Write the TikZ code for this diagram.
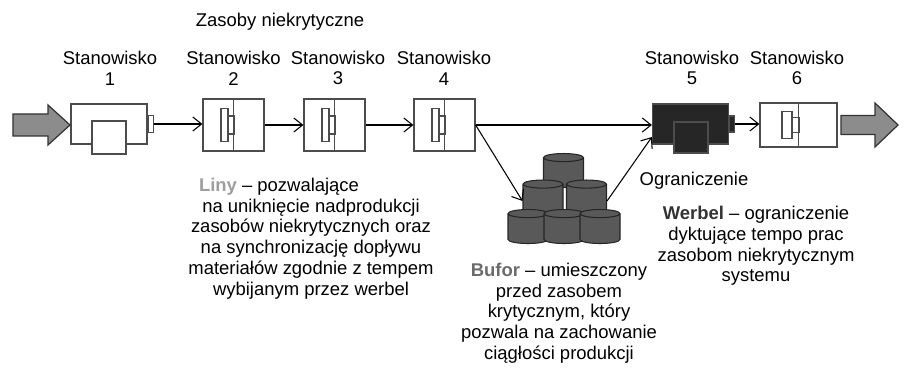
\documentclass[tikz,border=0pt]{standalone}
\usepackage{fontspec}
\setmainfont{Liberation Sans}
\usepackage{tikz}
\usetikzlibrary{arrows.meta,shapes.geometric}

\definecolor{linycol}{gray}{0.62}
\definecolor{buforcol}{gray}{0.42}
\definecolor{werbelcol}{gray}{0.2}

\begin{document}
\begin{tikzpicture}[>={Straight Barb[length=5pt,width=8pt]},
  font=\fontsize{10.5}{11.8}\selectfont,
  machine/.style={draw=black!70, line width=0.7pt, fill=white, inner sep=0pt,
    minimum width=1.52cm, minimum height=0.8cm},
  cell/.style={draw=black!70, line width=0.7pt, fill=white, inner sep=0pt,
    minimum width=1.22cm, minimum height=1.04cm},
  clamp/.style={draw=black!70, line width=0.6pt, fill=white, inner sep=0pt},
  drum/.style={cylinder, shape border rotate=90, aspect=0.45, draw=black!85,
    line width=0.6pt, fill=black!65, inner sep=0.18cm,
    minimum width=0.80cm, minimum height=0.68cm},
  bigarrow/.style={draw=black!80, line width=0.7pt, fill=black!45},
  flow/.style={->, line width=0.6pt}]
\useasboundingbox (0,0) rectangle (18.08,-7.4);

% stanowisko 1
\node[machine] (s1) at (2.18,-2.48) {};
\node[machine, minimum width=0.68cm, minimum height=0.66cm] (s1box) at (2.18,-2.75) {};
\node[clamp, anchor=west, minimum width=0.1cm, minimum height=0.34cm] (s1tab) at (s1.east) {};

% stanowiska 2-4
\node[cell] (s2) at (4.67,-2.5) {};
\draw[draw=black!70, line width=0.7pt] (s2.north) -- (s2.south);
\node[clamp, minimum width=0.14cm, minimum height=0.66cm] (s2a) at ([xshift=-0.18cm]s2.center) {};
\node[clamp, minimum width=0.12cm, minimum height=0.36cm] (s2b) at ([xshift=-0.05cm]s2.center) {};

\node[cell] (s3) at (6.69,-2.5) {};
\draw[draw=black!70, line width=0.7pt] (s3.north) -- (s3.south);
\node[clamp, minimum width=0.14cm, minimum height=0.66cm] (s3a) at ([xshift=-0.18cm]s3.center) {};
\node[clamp, minimum width=0.12cm, minimum height=0.36cm] (s3b) at ([xshift=-0.05cm]s3.center) {};

\node[cell] (s4) at (8.89,-2.5) {};
\draw[draw=black!70, line width=0.7pt] (s4.north) -- (s4.south);
\node[clamp, minimum width=0.14cm, minimum height=0.66cm] (s4a) at ([xshift=-0.18cm]s4.center) {};
\node[clamp, minimum width=0.12cm, minimum height=0.36cm] (s4b) at ([xshift=-0.05cm]s4.center) {};

% stanowisko 5 (werbel)
\node[machine, fill=black!85] (s5) at (13.81,-2.48) {};
\node[machine, fill=black!85, minimum width=0.68cm, minimum height=0.62cm] (s5box) at (13.82,-2.75) {};
\node[clamp, fill=black!85, anchor=west, minimum width=0.1cm, minimum height=0.32cm] (s5tab) at (s5.east) {};

% stanowisko 6
\node[cell, minimum width=1.54cm, minimum height=0.88cm] (s6) at (15.97,-2.5) {};
\draw[draw=black!70, line width=0.7pt] (s6.north) -- (s6.south);
\node[clamp, minimum width=0.2cm, minimum height=0.54cm] (s6a) at ([xshift=-0.23cm]s6.center) {};
\node[clamp, minimum width=0.14cm, minimum height=0.30cm] (s6b) at ([xshift=-0.06cm]s6.center) {};

% bufor
\node[drum] (d1) at (11.27,-3.49) {};
\node[drum] (d2) at (10.86,-4.02) {};
\node[drum] (d3) at (11.73,-4.02) {};
\node[drum] (d4) at (10.56,-4.61) {};
\node[drum] (d5) at (11.28,-4.61) {};
\node[drum] (d6) at (12.00,-4.61) {};

% wejscie i wyjscie
\draw[bigarrow] (0.26,-2.28) -- (0.96,-2.28) -- (0.96,-2.10) -- (1.40,-2.50)
  -- (0.96,-2.90) -- (0.96,-2.72) -- (0.26,-2.72) -- cycle;
\draw[bigarrow] (16.82,-2.31) -- (17.50,-2.31) -- (17.50,-2.06) -- (17.96,-2.50)
  -- (17.50,-2.94) -- (17.50,-2.69) -- (16.82,-2.69) -- cycle;

% przeplyw
\draw[flow] (s1tab.east) -- (s1tab.east -| s2.west);
\draw[flow] (s2.east) -- (s3.west);
\draw[flow] (s3.east) -- (s4.west);
\draw[flow] (s4.east) -- (s4.east -| s5.west);
\draw[flow] (s4.east) -- (d2.west);
\draw[flow] (d3.east) -- ([yshift=-0.26cm]s5.west);
\draw[flow] (s5tab.east) -- (s5tab.east -| s6.west);

% opisy
\node (zasoby) at (5.6,-0.44) {Zasoby niekrytyczne};
\node[align=center] (l1) at (2.2,-1.36) {Stanowisko\\1};
\node[align=center] (l2) at (4.67,-1.36) {Stanowisko\\2};
\node[align=center] (l3) at (6.76,-1.36) {Stanowisko\\3};
\node[align=center] (l4) at (8.88,-1.36) {Stanowisko\\4};
\node[align=center] (l5) at (13.84,-1.36) {Stanowisko\\5};
\node[align=center] (l6) at (15.94,-1.36) {Stanowisko\\6};
\node (ogr) at (13.88,-3.62) {Ograniczenie};

\node[align=center] (liny) at (6.22,-4.77) {\textbf{\color{linycol}Liny} – pozwalające\hspace*{1.28cm}\\
  na uniknięcie nadprodukcji\\zasobów niekrytycznych oraz\\na synchronizację dopływu\\
  materiałów zgodnie z tempem\\wybijanym przez werbel};
\node[align=center] (werbel) at (15.12,-4.92) {\textbf{\color{werbelcol}Werbel} – ograniczenie\\
  dyktujące tempo prac\\zasobom niekrytycznym\\systemu};
\node[align=center] (bufor) at (11.18,-6.26) {\textbf{\color{buforcol}Bufor} – umieszczony\\
  przed zasobem\\krytycznym, który\\pozwala na zachowanie\\ciągłości produkcji};
\end{tikzpicture}
\end{document}
